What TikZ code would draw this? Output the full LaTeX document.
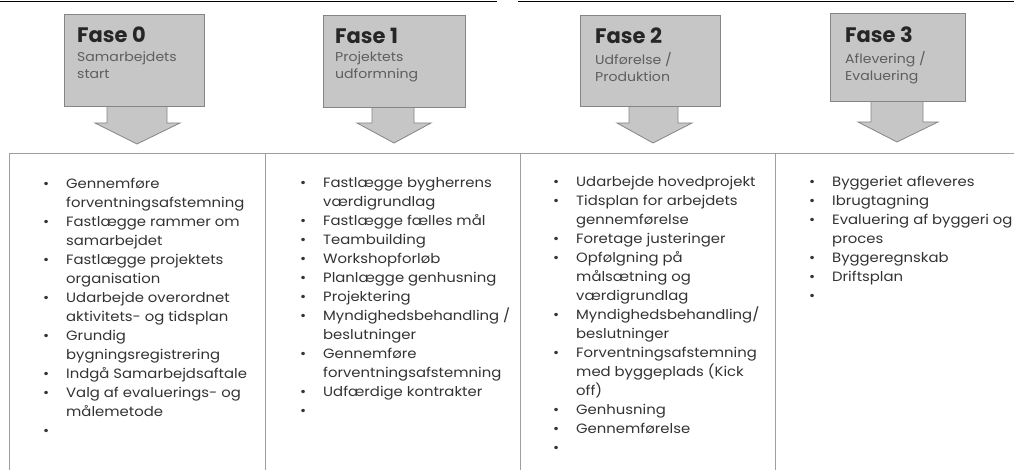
\documentclass[tikz,border=0pt]{standalone}
\usepackage{fontspec}
\setmainfont{Poppins}
\newfontfamily\bredfont[FakeStretch=1.1]{Poppins}
\usetikzlibrary{positioning}
\definecolor{tekst}{HTML}{333333}
\definecolor{undertekst}{HTML}{5E5E5E}
\definecolor{fasegraa}{HTML}{C6C6C6}
\definecolor{kant}{HTML}{858585}
\tikzset{
  fasefelt/.style={fill=fasegraa, draw=kant, line width=0.8pt},
  fasenavn/.style={anchor=north west, inner sep=0pt, text=black!85,
    font=\fontsize{21}{22}\selectfont\bfseries},
  faseunder/.style={align=left, inner sep=0pt, text=undertekst,
    font=\bredfont\fontsize{12.8}{17}\selectfont},
  liste/.style={anchor=north west, align=left, inner sep=0pt, text=tekst,
    font=\bredfont\fontsize{13.5}{19}\selectfont},
  tabel/.style={draw=gray!75, line width=0.9pt},
}
\newcommand\pkt{\makebox[23pt][l]{\textbullet}}
\newcommand\fort{\hspace*{23pt}}

\begin{document}
\begin{tikzpicture}[x=1pt,y=-1pt]
	\useasboundingbox (0,0) rectangle (1014,470);
	% top rule
	\draw[line width=1.4pt] (0,1.5) -- (497,1.5);
	\draw[line width=1.4pt] (518,1.5) -- (1014,1.5);

	% phase arrows
	\filldraw[fasefelt] (107,106) -- (167,106) -- (167,123) -- (180,123) -- (137,144) -- (95,123) -- (107,123) -- cycle;
	\filldraw[fasefelt] (64,14) rectangle (204,106);
	\filldraw[fasefelt] (372,107) -- (414,107) -- (414,123) -- (431,123) -- (394,143) -- (357,123) -- (372,123) -- cycle;
	\filldraw[fasefelt] (323,15) rectangle (465,107);
	\filldraw[fasefelt] (629,106) -- (678,106) -- (678,123) -- (692,123) -- (653,143) -- (617,123) -- (629,123) -- cycle;
	\filldraw[fasefelt] (580,15) rectangle (720,106);
	\filldraw[fasefelt] (871,101) -- (923,101) -- (923,122) -- (938,122) -- (897,142) -- (858,122) -- (871,122) -- cycle;
	\filldraw[fasefelt] (830,13) rectangle (965,101);

	\node[fasenavn] (fase0) at (77,27) {Fase 0};
	\node[faseunder, below=8pt of fase0.south west, anchor=north west] (fase0u) {Samarbejdets\\start};
	\node[fasenavn] (fase1) at (335,28) {Fase 1};
	\node[faseunder, below=8pt of fase1.south west, anchor=north west] (fase1u) {Projektets\\udformning};
	\node[fasenavn] (fase2) at (595,28) {Fase 2};
	\node[faseunder, below=8pt of fase2.south west, anchor=north west] (fase2u) {Udførelse /\\Produktion};
	\node[fasenavn] (fase3) at (845,27) {Fase 3};
	\node[faseunder, below=8pt of fase3.south west, anchor=north west] (fase3u) {Aflevering /\\Evaluering};

	% table
	\draw[tabel] (9.5,470) -- (9.5,153) -- (1014,153);
	\draw[tabel] (265,153) -- (265,470);
	\draw[tabel] (520,153) -- (520,470);
	\draw[tabel] (775,153) -- (775,470);

	\node[liste] (liste0) at (43,178) {\pkt Gennemføre\\ \fort forventningsafstemning\\
		\pkt Fastlægge rammer om\\ \fort samarbejdet\\
		\pkt Fastlægge projektets\\ \fort organisation\\
		\pkt Udarbejde overordnet\\ \fort aktivitets- og tidsplan\\
		\pkt Grundig\\ \fort bygningsregistrering\\
		\pkt Indgå Samarbejdsaftale\\
		\pkt Valg af evaluerings- og\\ \fort målemetode\\
		\pkt};
	\node[liste] (liste1) at (300,177) {\pkt Fastlægge bygherrens\\ \fort værdigrundlag\\
		\pkt Fastlægge fælles mål\\
		\pkt Teambuilding\\
		\pkt Workshopforløb\\
		\pkt Planlægge genhusning\\
		\pkt Projektering\\
		\pkt Myndighedsbehandling /\\ \fort beslutninger\\
		\pkt Gennemføre\\ \fort forventningsafstemning\\
		\pkt Udfærdige kontrakter\\
		\pkt};
	\node[liste] (liste2) at (553,176) {\pkt Udarbejde hovedprojekt\\
		\pkt Tidsplan for arbejdets\\ \fort gennemførelse\\
		\pkt Foretage justeringer\\
		\pkt Opfølgning på\\ \fort målsætning og\\ \fort værdigrundlag\\
		\pkt Myndighedsbehandling/\\ \fort beslutninger\\
		\pkt Forventningsafstemning\\ \fort med byggeplads (Kick\\ \fort off)\\
		\pkt Genhusning\\
		\pkt Gennemførelse\\
		\pkt};
	\node[liste] (liste3) at (809,176) {\pkt Byggeriet afleveres\\
		\pkt Ibrugtagning\\
		\pkt Evaluering af byggeri og\\ \fort proces\\
		\pkt Byggeregnskab\\
		\pkt Driftsplan\\
		\pkt};
\end{tikzpicture}
\end{document}
